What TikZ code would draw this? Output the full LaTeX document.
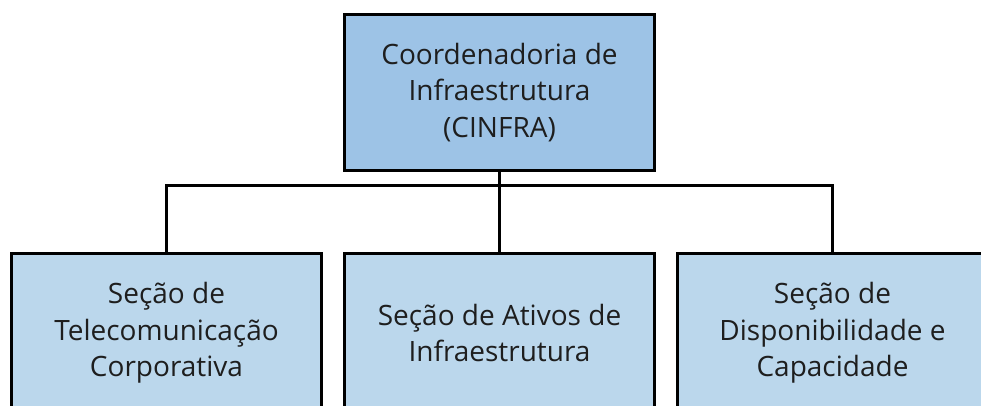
\documentclass[tikz,border=0pt]{standalone}
\usepackage{fontspec}
\setmainfont{Open Sans}
\usetikzlibrary{positioning}

\definecolor{headblue}{RGB}{157,195,230}
\definecolor{unitblue}{RGB}{187,215,236}
\definecolor{inkgray}{RGB}{30,30,30}

\begin{document}
\begin{tikzpicture}[
                x=1pt, y=-1pt,
                node distance=20pt,
                head/.style={rectangle, draw, line width=3pt, fill=headblue, text=inkgray, minimum width=310pt, minimum height=156pt, align=center, font=\fontsize{28}{36.5}\selectfont},
                unit/.style={rectangle, draw, line width=3pt, fill=unitblue, text=inkgray, minimum width=310pt, minimum height=159pt, align=center, font=\fontsize{28}{36.5}\selectfont},
                link/.style={line width=3pt}
        ]

        \clip (0,0) rectangle (981,406);

        % Define the top node
        \node[head] (cinfra) at (499.5,92.5) {Coordenadoria de\\Infraestrutura\\(CINFRA)};

        % Define the section nodes
        \node[unit, below=80pt of cinfra] (ativos) {Seção de Ativos de\\Infraestrutura};
        \node[unit, left=of ativos] (telecom) {Seção de\\Telecomunicação\\Corporativa};
        \node[unit, right=of ativos] (capacidade) {Seção de\\Disponibilidade e\\Capacidade};

        % Draw the links
        \coordinate[below=13pt of cinfra] (bus);
        \draw[link] (cinfra.south) -- (ativos.north);
        \draw[link] (bus) -| (telecom.north);
        \draw[link] (bus) -| (capacidade.north);
\end{tikzpicture}
\end{document}
